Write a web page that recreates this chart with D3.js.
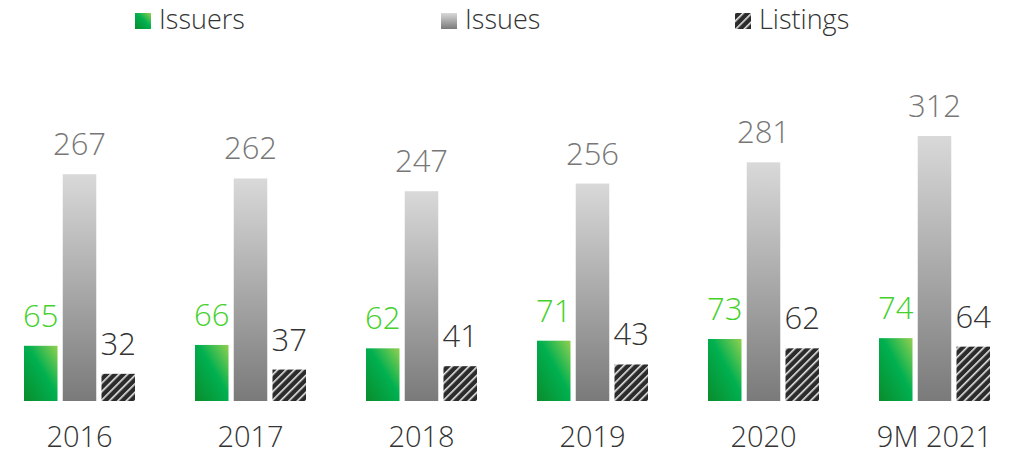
<!DOCTYPE html>
<html>
<head>
<meta charset="utf-8">
<script src="https://cdn.jsdelivr.net/npm/d3@7"></script>
<style>
  body { margin:0; background:#fff; }
  text { font-family: "Open Sans", Lato, sans-serif; font-weight:300; }
</style>
</head>
<body>
<svg id="chart" width="1011" height="456"></svg>
<script>
var categories=['2016','2017','2018','2019','2020','9M 2021'];
var issuers=[65,66,62,71,73,74];
var issues=[267,262,247,256,281,312];
var listings=[32,37,41,43,62,64];
var seriesNames=['Issuers','Issues','Listings'];

var svg=d3.select('#chart');
var defs=svg.append('defs');

// gradients
var g1=defs.append('linearGradient').attr('id','gIssuers')
    .attr('x1','0').attr('y1','1').attr('x2','1').attr('y2','0');
g1.append('stop').attr('offset','0%').attr('stop-color','#0a8c2c');
g1.append('stop').attr('offset','55%').attr('stop-color','#00b050');
g1.append('stop').attr('offset','100%').attr('stop-color','#92d050');

var g2=defs.append('linearGradient').attr('id','gIssues')
    .attr('x1','0').attr('y1','0').attr('x2','0').attr('y2','1');
g2.append('stop').attr('offset','0%').attr('stop-color','#d9d9d9');
g2.append('stop').attr('offset','100%').attr('stop-color','#7a7a7a');

var pat=defs.append('pattern').attr('id','hatch')
    .attr('patternUnits','userSpaceOnUse').attr('width',6).attr('height',6)
    .attr('patternTransform','rotate(45)');
pat.append('rect').attr('width',6).attr('height',6).attr('fill','#2b2b2b');
pat.append('rect').attr('x',0).attr('width',1.6).attr('height',6).attr('fill','#e8e8e8');

var fills=['url(#gIssuers)','url(#gIssues)','url(#hatch)'];
var labelColors=['#43d12a','#777777','#333333'];

var baseline=401;
var x0=d3.scaleBand().domain(categories).range([0,1026]);
var x1=d3.scaleBand().domain(seriesNames).range([24,135]).paddingInner(0.135);
var y=d3.scaleLinear().domain([0,312]).range([baseline,136]);

var data=[issuers,issues,listings];

categories.forEach(function(c,i) {
    var gg=svg.append('g').attr('transform','translate('+x0(c)+',0)');
    seriesNames.forEach(function(s,k) {
        var v=data[k][i];
        gg.append('rect')
            .attr('x',x1(s))
            .attr('y',y(v))
            .attr('width',x1.bandwidth())
            .attr('height',baseline-y(v))
            .attr('fill',fills[k]);
        gg.append('text')
            .attr('x',x1(s)+x1.bandwidth()/2)
            .attr('y',y(v)-19)
            .attr('text-anchor','middle')
            .style('font-size','31px')
            .style('fill',labelColors[k])
            .text(v);
    });
    // category label, kept just inside the bottom edge
    gg.append('text')
        .attr('x',(x1.range()[0]+x1.range()[1])/2)
        .attr('y',447)
        .attr('text-anchor','middle')
        .style('font-size','29px')
        .style('fill','#333')
        .text(c);
});

// legend (kept inside the top edge)
var legendX=[135,441,735];
seriesNames.forEach(function(s,k) {
    svg.append('rect').attr('x',legendX[k]).attr('y',13).attr('width',16).attr('height',16)
        .attr('fill',fills[k]);
    svg.append('text').attr('x',legendX[k]+24).attr('y',29)
        .style('font-size','27px').style('fill','#333').text(s);
});
</script>
</body>
</html>
